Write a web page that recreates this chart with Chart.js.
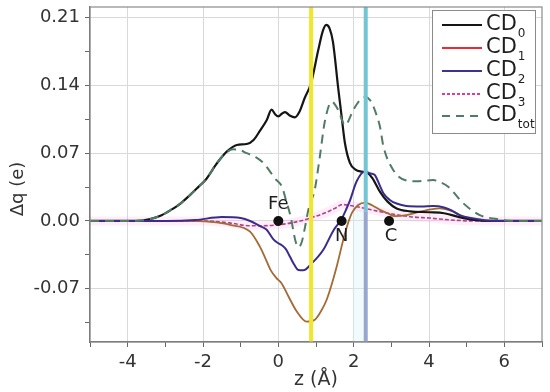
<!DOCTYPE html>
<html>
<head>
<meta charset="utf-8">
<script src="https://cdn.jsdelivr.net/npm/chart.js@4/dist/chart.umd.min.js"></script>
<style>
html,body{margin:0;padding:0;background:#fff;}
#wrap{width:550px;height:392px;position:relative;}
</style>
</head>
<body>
<div id="wrap"><canvas id="c" width="550" height="392"></canvas></div>
<script>
// ---- data (z in Å, Δq in e) ----
const cd0Z = [-5, -3.8, -3.4, -3.1, -2.87, -2.6, -2.34, -2.1, -1.94, -1.63, -1.37, -1.1, -0.84, -0.65, -0.49, -0.31, -0.18, -0.08, 0.0, 0.1, 0.18, 0.3, 0.44, 0.55, 0.7, 0.87, 1.06, 1.18, 1.27, 1.36, 1.45, 1.59, 1.68, 1.77, 1.9, 2.05, 2.2, 2.35, 2.5, 2.7, 2.9, 3.14, 3.5, 4.0, 4.4, 4.8, 5.2, 5.6, 7];
const cd0Q = [0, 0, 0.002, 0.006, 0.011, 0.018, 0.027, 0.036, 0.042, 0.0596, 0.0716, 0.0785, 0.0795, 0.084, 0.093, 0.104, 0.115, 0.110, 0.108, 0.111, 0.1125, 0.109, 0.107, 0.112, 0.127, 0.1425, 0.1765, 0.196, 0.2025, 0.199, 0.185, 0.137, 0.108, 0.080, 0.060, 0.053, 0.051, 0.050, 0.044, 0.030, 0.020, 0.013, 0.010, 0.009, 0.008, 0.004, 0.001, 0, 0];

const cd1Z = [-5, -2.5, -1.8, -1.28, -0.75, -0.49, -0.35, -0.2, -0.05, 0.08, 0.27, 0.49, 0.75, 0.97, 1.15, 1.28, 1.42, 1.55, 1.77, 1.95, 2.12, 2.3, 2.5, 2.7, 2.9, 3.1, 3.4, 3.76, 4.05, 4.29, 4.64, 4.91, 5.3, 5.7, 7];
const cd1Q = [0, 0, -0.001, -0.004, -0.011, -0.0265, -0.038, -0.051, -0.059, -0.064, -0.078, -0.0936, -0.104, -0.102, -0.092, -0.0816, -0.065, -0.047, -0.0127, 0.008, 0.0165, 0.019, 0.016, 0.0115, 0.008, 0.005, 0.006, 0.0096, 0.012, 0.013, 0.0096, 0.0044, 0.001, 0, 0];

const cd2Z = [-5, -3, -2.2, -1.5, -1.0, -0.75, -0.5, -0.31, -0.13, 0.0, 0.09, 0.2, 0.31, 0.42, 0.53, 0.66, 0.89, 1.19, 1.46, 1.68, 1.79, 1.9, 2.08, 2.3, 2.45, 2.56, 2.7, 2.79, 2.95, 3.14, 3.4, 3.8, 4.11, 4.4, 4.6, 4.82, 5.26, 5.7, 7];
const cd2Q = [0, 0, 0.001, 0.004, 0.003, 0.0, -0.005, -0.009, -0.019, -0.023, -0.025, -0.029, -0.037, -0.045, -0.0506, -0.051, -0.0437, -0.030, -0.010, 0.002, 0.011, 0.021, 0.041, 0.051, 0.049, 0.0475, 0.036, 0.0286, 0.022, 0.018, 0.0155, 0.015, 0.0155, 0.014, 0.011, 0.006, 0.002, 0, 0];

const cd3Z = [-5, -2, -1.3, -0.75, 0.0, 0.58, 0.84, 1.28, 1.5, 1.7, 1.9, 2.3, 2.7, 3.5, 4.02, 4.6, 5.2, 7];
const cd3Q = [0, 0, -0.002, -0.005, -0.004, 0.0, 0.003, 0.009, 0.013, 0.017, 0.016, 0.013, 0.0096, 0.0044, 0.003, 0.001, 0, 0];

const totZ = [-5, -3.8, -3.4, -3.1, -2.87, -2.6, -2.34, -2.1, -1.94, -1.63, -1.4, -1.2, -1.0, -0.84, -0.6, -0.4, -0.2, -0.09, 0.1, 0.2, 0.33, 0.45, 0.53, 0.62, 0.7, 0.8, 0.97, 1.1, 1.24, 1.42, 1.59, 1.77, 1.99, 2.15, 2.3, 2.45, 2.56, 2.7, 2.79, 3.05, 3.36, 3.7, 4.11, 4.3, 4.51, 4.91, 5.35, 5.8, 6.2, 7];
const totQ = [0, 0, 0.002, 0.006, 0.011, 0.018, 0.027, 0.036, 0.042, 0.0596, 0.070, 0.074, 0.073, 0.070, 0.066, 0.060, 0.050, 0.044, 0.035, 0.022, 0.004, -0.020, -0.027, -0.022, -0.008, 0.012, 0.033, 0.066, 0.104, 0.123, 0.1146, 0.099, 0.1146, 0.124, 0.128, 0.124, 0.1146, 0.097, 0.077, 0.0527, 0.0423, 0.041, 0.0423, 0.040, 0.0354, 0.0183, 0.006, 0.002, 0, 0];

const seriesBase = 'CD';
const seriesSubs = ['0', '1', '2', '3', 'tot'];

const atomNames = ['Fe', 'N', 'C'];
const atomZ = [0, 1.68, 2.94];
const atomQ = [0, 0, 0];

const markerYellowZ = 0.87;
const markerCyanZ = 2.32;
const cyanSplitQ = 0.01;
const shadeZ = [1.97, 2.3];
const shadeTopQ = 0.015;

const xMin = -5, xMax = 7, xStep = 1;
const yMin = -0.125, yMax = 0.221, yStep = 0.035;

const xTitle = 'z (Å)';
const yTitle = 'Δq (e)';

// ---- helpers ----
const pts = (zs, qs) => zs.map((z, i) => ({x: z, y: qs[i]}));
const FONT = "'DejaVu Sans', 'Liberation Sans', Arial, sans-serif";

const curveColors = ['#151515', '#a36a34', '#3b2c8c', '#b1428a', '#4f7c64'];
const legendColors = ['#151515', '#ec2a33', '#3d3490', '#e0399c', '#4f7c64'];
const legendDash = [[], [], [], [3, 2], [8, 6]];

const datasets = [
  {label: 'atoms', data: pts(atomZ, atomQ), showLine: false, pointRadius: 5, pointHoverRadius: 5,
   pointBackgroundColor: '#111', pointBorderColor: '#111', borderWidth: 0, order: -2},
  {label: 'yellow', data: [{x: markerYellowZ, y: yMin}, {x: markerYellowZ, y: yMax}],
   borderColor: '#f0e62a', borderWidth: 4, pointRadius: 0, order: -1},
  {label: 'cyanTop', data: [{x: markerCyanZ, y: cyanSplitQ}, {x: markerCyanZ, y: yMax}],
   borderColor: '#72c5d3', borderWidth: 4, pointRadius: 0, order: -1},
  {label: 'cyanBottom', data: [{x: markerCyanZ, y: yMin}, {x: markerCyanZ, y: cyanSplitQ}],
   borderColor: '#97a6cf', borderWidth: 4, pointRadius: 0, order: -1},
  {label: 'CD0', data: pts(cd0Z, cd0Q), borderColor: curveColors[0], borderWidth: 2.2, order: 3},
  {label: 'CD1', data: pts(cd1Z, cd1Q), borderColor: curveColors[1], borderWidth: 1.8, order: 4},
  {label: 'CD2', data: pts(cd2Z, cd2Q), borderColor: curveColors[2], borderWidth: 2, order: 2},
  {label: 'CD3', data: pts(cd3Z, cd3Q), borderColor: curveColors[3], borderWidth: 1.6, borderDash: [4, 2], order: 5},
  {label: 'CDtot', data: pts(totZ, totQ), borderColor: curveColors[4], borderWidth: 2, borderDash: [9, 6], order: 1},
  {label: 'halo', data: pts(cd3Z, cd3Q), borderColor: 'rgba(255,170,225,0.2)', borderWidth: 9, order: 10},
  {label: 'shade', data: [{x: shadeZ[0], y: shadeTopQ}, {x: shadeZ[1], y: shadeTopQ}], borderWidth: 0,
   borderColor: 'rgba(0,0,0,0)', backgroundColor: 'rgba(215,243,247,0.35)', fill: 'start', order: 11}
];
datasets.forEach(d => {
  if (d.pointRadius === undefined) d.pointRadius = 0;
  d.cubicInterpolationMode = 'monotone';
  d.tension = 0.4;
});

const majorGrid = '#d9d9d9';
const isMajor = (v, step) => Math.abs(Math.round(v / step)) % 2 === 0;

const framePlugin = {
  id: 'frame',
  afterDatasetsDraw(chart) {
    const {ctx, chartArea: a} = chart;
    ctx.save();
    ctx.strokeStyle = '#8a8a8a';
    ctx.lineWidth = 1.2;
    ctx.strokeRect(a.left, a.top, a.right - a.left, a.bottom - a.top);
    ctx.restore();
  },
  afterDraw(chart) {
    const {ctx, scales} = chart;
    ctx.save();
    ctx.fillStyle = '#1e1e1e';
    ctx.font = '18px ' + FONT;
    ctx.textAlign = 'center';
    ctx.textBaseline = 'middle';
    const offs = [[0, -17], [0, 15], [2, 15]];
    atomNames.forEach((n, i) => {
      const px = scales.x.getPixelForValue(atomZ[i]);
      const py = scales.y.getPixelForValue(atomQ[i]);
      ctx.fillText(n, px + offs[i][0], py + offs[i][1]);
    });
    ctx.save();
    ctx.translate(18, 189);
    ctx.rotate(-Math.PI / 2);
    ctx.font = '18px ' + FONT;
    ctx.fillStyle = '#333';
    ctx.fillText(yTitle, 0, 0);
    ctx.restore();
    const bx = 432, by = 10, bw = 103, bh = 123;
    ctx.fillStyle = '#fff';
    ctx.fillRect(bx, by, bw, bh);
    ctx.strokeStyle = '#8a8a8a';
    ctx.lineWidth = 1;
    ctx.strokeRect(bx + 0.5, by + 0.5, bw, bh);
    const rowY = [25, 48, 71, 94, 116];
    seriesSubs.forEach((s, i) => {
      const y = rowY[i];
      ctx.beginPath();
      ctx.setLineDash(legendDash[i]);
      ctx.strokeStyle = legendColors[i];
      ctx.lineWidth = 2;
      ctx.moveTo(442, y);
      ctx.lineTo(482, y);
      ctx.stroke();
      ctx.setLineDash([]);
      ctx.fillStyle = '#1e1e1e';
      ctx.textAlign = 'left';
      ctx.textBaseline = 'middle';
      ctx.font = '21px ' + FONT;
      ctx.fillText(seriesBase, 486, y);
      const w = ctx.measureText(seriesBase).width;
      ctx.font = '12px ' + FONT;
      ctx.fillText(s, 486 + w + 1, y + 9);
    });
    ctx.restore();
  }
};

new Chart(document.getElementById('c'), {
  type: 'line',
  data: {datasets},
  options: {
    responsive: false,
    animation: false,
    devicePixelRatio: 1,
    layout: {padding: {left: 0, right: 8, top: 7, bottom: 0}},
    plugins: {legend: {display: false}, tooltip: {enabled: false}},
    scales: {
      x: {
        type: 'linear', min: xMin, max: xMax,
        afterFit: s => { s.height = 50; s.paddingLeft = 0; s.paddingRight = 0; },
        ticks: {
          stepSize: xStep, autoSkip: false, maxRotation: 0, includeBounds: false,
          callback: v => isMajor(v, xStep) ? String(v) : '',
          color: '#333', font: {size: 18, family: FONT}, padding: 5
        },
        grid: {
          color: c => (c.tick && isMajor(c.tick.value, xStep)) ? majorGrid : 'rgba(0,0,0,0)',
          tickColor: '#666', tickLength: 5, lineWidth: 1
        },
        border: {color: '#666', width: 1.2},
        title: {display: true, text: xTitle, color: '#333', font: {size: 19, family: FONT}, padding: {top: 0, bottom: 1}}
      },
      y: {
        type: 'linear', min: yMin, max: yMax,
        afterFit: s => { s.width = 90; s.paddingTop = 0; s.paddingBottom = 0; },
        ticks: {
          stepSize: yStep, autoSkip: false, includeBounds: false,
          callback: v => { const k = Math.round(v / yStep); return k % 2 === 0 ? (k * yStep).toFixed(2) : ''; },
          color: '#333', font: {size: 18, family: FONT}, padding: 5
        },
        grid: {
          color: c => (c.tick && isMajor(c.tick.value, yStep)) ? majorGrid : 'rgba(0,0,0,0)',
          tickColor: '#666', tickLength: 5, lineWidth: 1
        },
        border: {color: '#666', width: 1.2}
      }
    }
  },
  plugins: [framePlugin]
});
</script>
</body>
</html>
